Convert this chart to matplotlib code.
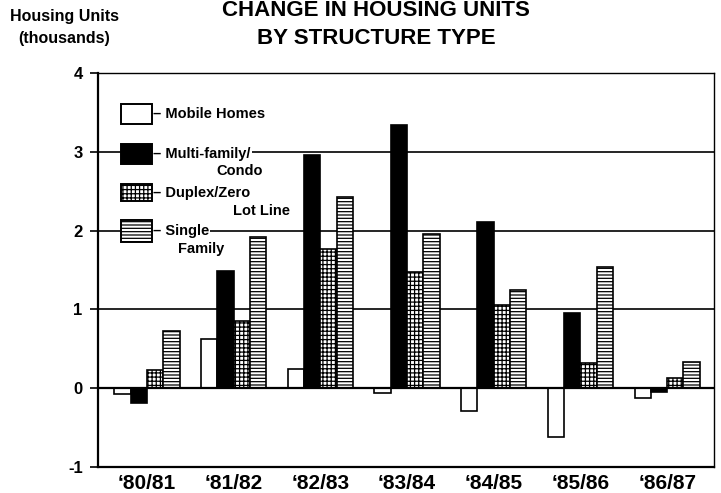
import matplotlib
matplotlib.use('Agg')
import matplotlib.pyplot as plt
from matplotlib.patches import Rectangle
import numpy as np

# ============================================================================
# DATA (thousands of housing units)
# ============================================================================

periods = ['\u201880/81', '\u201881/82', '\u201882/83', '\u201883/84',
           '\u201884/85', '\u201885/86', '\u201886/87']

mobile_homes = [-0.07, 0.63, 0.25, -0.06, -0.29, -0.62, -0.13]
multi_family = [-0.19, 1.49, 2.96, 3.34, 2.11, 0.96, -0.05]
duplex_zero = [0.23, 0.85, 1.77, 1.48, 1.05, 0.32, 0.13]
single_family = [0.73, 1.92, 2.43, 1.96, 1.24, 1.54, 0.33]

y_ticks = [-1, 0, 1, 2, 3, 4]

# ============================================================================
# FIGURE
# ============================================================================

plt.rcParams['font.family'] = ['Liberation Sans', 'DejaVu Sans']
plt.rcParams['font.weight'] = 'bold'
plt.rcParams['hatch.linewidth'] = 0.9

W, H = 721, 493
fig = plt.figure(figsize=(W / 100, H / 100), dpi=100)
ax = fig.add_axes([98 / W, 1 - 467 / H, (714 - 98) / W, (467 - 73) / H])

x = np.arange(len(periods))
w = 0.188

series = [
    (mobile_homes, 'white', None),
    (multi_family, 'black', None),
    (duplex_zero, 'white', '++++'),
    (single_family, 'white', '-----'),
]

for i, (vals, fc, hatch) in enumerate(series):
    ax.bar(x + (i - 1.5) * w, vals, width=w, color=fc, edgecolor='black',
           linewidth=1.2, hatch=hatch, zorder=3)

# horizontal reference lines
for yv in [1, 2, 3]:
    ax.axhline(yv, color='black', linewidth=1.2, zorder=1)
ax.axhline(0, color='black', linewidth=1.6, zorder=4)

ax.set_xlim(-0.565, 6.54)
ax.set_ylim(-1, 4)
ax.set_yticks(y_ticks)
ax.set_yticklabels([str(v) for v in y_ticks], fontsize=12, fontweight='bold')
ax.tick_params(axis='y', direction='out', length=6, width=1.2, pad=5)
ax.set_xticks(x)
ax.set_xticklabels(periods, fontsize=15, fontweight='bold')
ax.tick_params(axis='x', length=0, pad=5)

for side in ['left', 'bottom']:
    ax.spines[side].set_linewidth(1.6)
for side in ['top', 'right']:
    ax.spines[side].set_linewidth(1.0)

# ============================================================================
# LEGEND (drawn by hand, like the original)
# ============================================================================

leg_x = -0.30
leg_w = 0.357
boxes = [
    (3.35, 0.26, 'white', None),
    (2.84, 0.26, 'black', None),
    (2.37, 0.22, 'white', '++++'),
    (1.86, 0.27, 'white', '-----'),
]
for y0, h, fc, hatch in boxes:
    ax.add_patch(Rectangle((leg_x, y0), leg_w, h, facecolor=fc,
                           edgecolor='black', linewidth=1.4, hatch=hatch,
                           zorder=7))

txt = dict(fontsize=10.5, fontweight='bold', va='center', zorder=6,
           bbox=dict(facecolor='white', edgecolor='none', pad=0.5))
ax.text(0.075, 3.48, '\u2013 Mobile Homes', ha='left', **txt)
ax.text(0.075, 2.97, '\u2013 Multi-family/', ha='left', **txt)
ax.text(1.34, 2.75, 'Condo', ha='right', **txt)
ax.text(0.075, 2.48, '\u2013 Duplex/Zero', ha='left', **txt)
ax.text(1.65, 2.25, 'Lot Line', ha='right', **txt)
ax.text(0.075, 2.00, '\u2013 Single', ha='left', **txt)
ax.text(0.62, 1.77, 'Family', ha='center', **txt)

# ============================================================================
# TITLES
# ============================================================================

fig.text(376 / W, 1 - 10 / H, 'CHANGE IN HOUSING UNITS', ha='center',
         va='center', fontsize=16, fontweight='bold')
fig.text(376 / W, 1 - 38 / H, 'BY STRUCTURE TYPE', ha='center',
         va='center', fontsize=16, fontweight='bold')
fig.text(64 / W, 1 - 17 / H, 'Housing Units', ha='center', va='center',
         fontsize=11.5, fontweight='bold')
fig.text(64 / W, 1 - 38 / H, '(thousands)', ha='center', va='center',
         fontsize=11.5, fontweight='bold')

fig.savefig('out.png', dpi=100)
